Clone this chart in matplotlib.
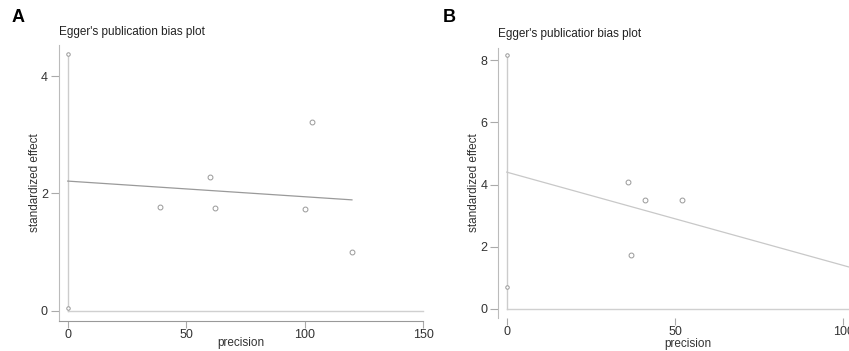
import matplotlib
matplotlib.use("Agg")
import matplotlib.pyplot as plt

plt.rcParams['font.family'] = ['Liberation Sans', 'DejaVu Sans']

# panel A
a_prec = [39, 60, 62, 100, 103, 120]
a_eff = [1.77, 2.28, 1.75, 1.74, 3.21, 1.00]
a_ci = [0.05, 4.38]
a_fit_x = [0, 120]
a_fit_y = [2.21, 1.89]
a_xticks = [0, 50, 100, 150]
a_yticks = [0, 2, 4]

# panel B
b_prec = [36, 37, 41, 52]
b_eff = [4.08, 1.72, 3.50, 3.50]
b_ci = [0.70, 8.15]
b_fit_x = [0, 110]
b_fit_y = [4.40, 1.10]
b_xticks = [0, 50, 100]
b_yticks = [0, 2, 4, 6, 8]

W, H = 849, 351
FS = 8.5
fig = plt.figure(figsize=(W / 100, H / 100), dpi=100)

def px_axes(l, t, r, b):
    return fig.add_axes([l / W, 1 - b / H, (r - l) / W, (b - t) / H])

def style(ax, xticks, yticks, xpad):
    for s in ['top', 'right']:
        ax.spines[s].set_visible(False)
    ax.spines['left'].set_color('#bbbbbb')
    ax.spines['bottom'].set_color('#999999')
    ax.set_xticks(xticks)
    ax.set_yticks(yticks)
    ax.tick_params(colors='#aaaaaa', labelcolor='#333333', labelsize=FS + 0.5, width=0.8)
    ax.tick_params(axis='x', length=5, pad=1)
    ax.tick_params(axis='y', length=6, pad=2)
    ax.set_xlabel('precision', fontsize=FS, color='#333333', labelpad=xpad)
    ax.set_ylabel('standardized effect', fontsize=FS, color='#333333', labelpad=0)

def draw(ax, prec, eff, ci, fit_x, fit_y, hmax, fitcol):
    ax.plot([0, hmax], [0, 0], color='#d0d0d0', lw=1, clip_on=False)
    ax.plot([0, 0], [0, ci[1]], color='#cccccc', lw=1, clip_on=False)
    ax.plot([0, 0], ci, ls='none', marker='o', ms=2.5, mfc='white', mec='#999999', mew=0.7, clip_on=False)
    ax.plot(fit_x, fit_y, color=fitcol, lw=0.9)
    ax.plot(prec, eff, ls='none', marker='o', ms=3.5, mfc='white', mec='#999999', mew=0.7)

axA = px_axes(59, 45, 423, 320.7)
draw(axA, a_prec, a_eff, a_ci, a_fit_x, a_fit_y, 150, '#9a9a9a')
axA.set_xlim(-3.68, 150)
axA.set_ylim(-0.17, 4.53)
style(axA, a_xticks, a_yticks, -3)
axA.set_title("Egger's publication bias plot", loc='left', fontsize=FS, color='#222222', pad=7)

axB = px_axes(498.3, 47.7, 877, 318)
draw(axB, b_prec, b_eff, b_ci, b_fit_x, b_fit_y, 110, '#c8c8c8')
axB.set_xlim(-2.49, 110)
axB.set_ylim(-0.29, 8.40)
style(axB, b_xticks, b_yticks, -0.5)
axB.spines['bottom'].set_visible(False)
axB.set_title("Egger's publicatior bias plot", loc='left', fontsize=FS, color='#222222', pad=8)

fig.text(12 / W, 1 - 17 / H, 'A', fontsize=13, fontweight='bold', va='center')
fig.text(443 / W, 1 - 17 / H, 'B', fontsize=13, fontweight='bold', va='center')

fig.savefig('out.png', dpi=100)
